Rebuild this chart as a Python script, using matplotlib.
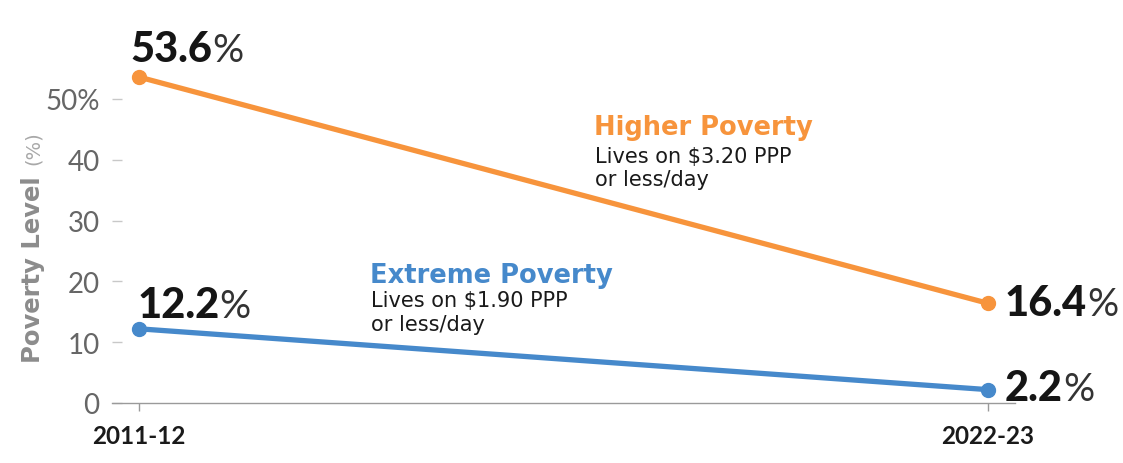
import matplotlib
matplotlib.use("Agg")
import matplotlib.pyplot as plt

# ---- data ----
periods = ["2011-12", "2022-23"]
higher_poverty = [53.6, 16.4]
extreme_poverty = [12.2, 2.2]
yticks = [0, 10, 20, 30, 40, 50]
ytick_labels = ["0", "10", "20", "30", "40", "50%"]

ORANGE = "#f7943c"
BLUE = "#4689cb"
GRAY_TXT = "#666666"
LATO = ["Lato", "DejaVu Sans"]
plt.rcParams["font.family"] = ["DejaVu Sans"]

W, H = 1123, 464
fig = plt.figure(figsize=(W / 100, H / 100), dpi=100)
ax = fig.add_axes([112 / W, (H - 404) / H, 903 / W, 340.5 / H])

x = list(range(len(periods)))
ax.plot(x, higher_poverty, color=ORANGE, lw=3.8, marker="o", ms=10, solid_capstyle="round", zorder=3)
ax.plot(x, extreme_poverty, color=BLUE, lw=3.8, marker="o", ms=10, solid_capstyle="round", zorder=3)

ax.set_xlim(-0.032, 1.032)
ax.set_ylim(0, 56)

for s in ["top", "right", "left"]:
    ax.spines[s].set_visible(False)
ax.spines["bottom"].set_color("#9a9a9a")
ax.spines["bottom"].set_linewidth(1.0)

ax.set_xticks(x)
ax.set_xticklabels(periods, fontsize=17.5, fontweight="bold", color="#1a1a1a", family=LATO)
ax.tick_params(axis="x", direction="out", length=6, width=1, color="#9a9a9a", pad=9)

ax.set_yticks(yticks)
ax.set_yticklabels(ytick_labels, fontsize=20, color=GRAY_TXT, fontweight="normal", family=LATO)
ax.tick_params(axis="y", direction="in", length=7, width=1, color="#c8c8c8", pad=9)

# y-axis label: bold part + light part
fig.text(33 / W, (H - 363) / H, "Poverty Level", rotation=90, fontsize=17.5, fontweight="bold",
         color="#8c8c8c", ha="center", va="bottom")
fig.text(33 / W, (H - 165) / H, "(%)", rotation=90, fontsize=14, color="#a8a8a8",
         ha="center", va="bottom")


def value_label(xi, yi, dx, dy):
    t = ax.annotate(f"{yi:.1f}", xy=(xi, yi), xytext=(dx, dy), textcoords="offset pixels",
                    fontsize=30, fontweight=900, color="#151515", ha="left", va="baseline",
                    family=LATO)
    ax.annotate("%", xy=(1, 0), xycoords=t, xytext=(0, 0), textcoords="offset pixels",
                fontsize=28, fontweight="normal", color="#333333", ha="left", va="bottom",
                family=LATO)


value_label(x[0], higher_poverty[0], -9, 16)
value_label(x[0], extreme_poverty[0], -2, 12)
value_label(x[1], higher_poverty[1], 17, -12)
value_label(x[1], extreme_poverty[1], 17, -10)

# series annotations
ax.text(0.534, 0.790, "Higher Poverty", transform=ax.transAxes, fontsize=18.5, fontweight="bold",
        color=ORANGE, ha="left", va="baseline")
ax.text(0.535, 0.708, "Lives on $3.20 PPP", transform=ax.transAxes, fontsize=15,
        color="#1a1a1a", ha="left", va="baseline")
ax.text(0.535, 0.639, "or less/day", transform=ax.transAxes, fontsize=15,
        color="#1a1a1a", ha="left", va="baseline")

ax.text(0.286, 0.355, "Extreme Poverty", transform=ax.transAxes, fontsize=18.5, fontweight="bold",
        color=BLUE, ha="left", va="baseline")
ax.text(0.287, 0.286, "Lives on $1.90 PPP", transform=ax.transAxes, fontsize=15,
        color="#1a1a1a", ha="left", va="baseline")
ax.text(0.287, 0.215, "or less/day", transform=ax.transAxes, fontsize=15,
        color="#1a1a1a", ha="left", va="baseline")

fig.savefig("out.png", dpi=100)
